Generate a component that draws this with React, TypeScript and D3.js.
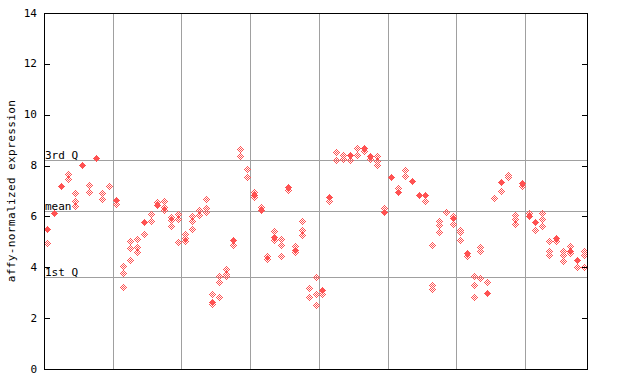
import React from "react";
import * as d3 from "d3";

// Per sample (x slot): replicate values (patterned diamonds)
const replicateValues: number[][] = [
  [4.95], [], [], [7.66, 7.47], [6.92, 6.61, 6.42], [], [7.25, 6.98], [], [6.93, 6.69], [7.18],
  [6.48], [4.07, 3.77, 3.22], [5.02, 4.76, 4.3], [5.11, 4.8, 4.61], [5.32], [6.09, 5.82], [6.55], [6.59, 6.37, 6.26], [5.98, 5.84, 5.63], [6.09, 5.9, 4.99],
  [5.32, 5.15, 5.04], [6.03, 5.81, 5.51], [6.24, 6.07], [6.69, 6.33, 6.17], [2.96, 2.55], [3.64, 3.42, 2.83], [3.93, 3.74, 3.64], [4.86], [8.66, 8.39], [7.86, 7.55],
  [6.95, 6.76], [6.37], [4.46, 4.33], [5.41, 5.08], [5.11, 4.89, 4.46], [7.04], [4.82, 4.59], [5.83, 5.48, 5.28], [3.18, 2.83], [3.62, 2.95, 2.52],
  [2.96], [6.6], [8.53, 8.22], [8.41, 8.26], [8.22], [8.69, 8.43], [8.56], [8.26], [8.39, 8.19, 8.03], [6.33],
  [], [7.12], [7.81, 7.6], [], [], [6.62], [4.89, 3.31, 3.16], [5.81, 5.68, 5.39], [6.17], [6.03, 5.71],
  [5.45, 5.37, 5.08], [4.43], [3.67, 3.3, 2.83], [4.81, 4.64, 3.59], [3.42], [6.72], [7.01], [7.64, 7.55], [6.07, 5.9, 5.71], [7.21],
  [6.13], [5.48], [6.13, 5.9, 5.63], [5.02, 4.65, 4.49], [5.02], [4.66, 4.49, 4.23], [4.85, 4.56], [4.01], [4.66, 4.49, 4.01],
];

// Per sample: highlighted value (solid diamond), null if none
const highlightValues: (number | null)[] = [
  5.52, 6.13, 7.21, null, null, 8.01, null, 8.29, null, null,
  6.64, null, null, null, 5.77, null, 6.44, null, null, null,
  null, null, null, null, 2.64, null, null, 5.06, null, null,
  6.86, 6.24, null, 5.19, null, 7.14, 4.68, null, null, null,
  3.09, 6.76, null, null, 8.4, null, 8.71, 8.36, null, 6.18,
  7.55, 6.98, null, 7.39, 6.85, 6.83, null, null, null, 5.94,
  null, 4.55, null, null, 2.97, null, 7.34, null, null, 7.31,
  6.03, 5.78, null, null, 5.15, null, 4.65, 4.27, null,
];

const groupBreaks = [10, 20, 30, 40, 50, 60, 70];
const yTicks = [0, 2, 4, 6, 8, 10, 12, 14];
const refLines = [
  { label: "3rd Q", value: 8.23 },
  { label: "mean", value: 6.21 },
  { label: "1st Q", value: 3.62 },
];
const yTitle = "affy-normalized expression";

const W = 640, H = 384;
const L = 44, R = 587, T = 13, B = 369;
const RED = "#ff5252";
const FONT = "'DejaVu Sans Mono', monospace";

function diamondPath(cx: number, cy: number, solid: boolean): string {
  let d = "";
  for (let dy = -3; dy <= 3; dy++) {
    for (let dx = -3; dx <= 3; dx++) {
      const m = Math.abs(dx) + Math.abs(dy);
      if (m > 3) continue;
      if (!solid && m % 2 === 0) continue;
      d += `M${cx + dx},${cy + dy}h1v1h-1z`;
    }
  }
  return d;
}

export default function App() {
  const n = replicateValues.length;
  const x = d3.scaleLinear().domain([0, n]).range([L, R]);
  const y = d3.scaleLinear().domain([0, 14]).range([B, T]);
  const px = (v: number) => Math.round(v) + 0.5;

  let repPath = "";
  let hiPath = "";
  replicateValues.forEach((vals, i) => {
    const cx = Math.round(x(i + 0.5));
    vals.forEach((v) => {
      repPath += diamondPath(cx, Math.round(y(v)), false);
    });
    const h = highlightValues[i];
    if (h != null) hiPath += diamondPath(cx, Math.round(y(h)), true);
  });

  return (
    <svg width={W} height={H} style={{ position: "absolute", left: 0, top: 0, background: "#fff" }}
      fontFamily={FONT}>
      <rect x={0} y={0} width={W} height={H} fill="#fff" />
      {groupBreaks.map((g) => (
        <line key={g} x1={px(x(g))} x2={px(x(g))} y1={T} y2={B} stroke="#a0a0a0" strokeWidth={1} />
      ))}
      {refLines.map((r) => (
        <g key={r.label}>
          <line x1={L} x2={R} y1={px(y(r.value))} y2={px(y(r.value))} stroke="#a0a0a0" strokeWidth={1} />
          <text x={L + 1} y={Math.round(y(r.value)) - 1} fontSize={11} fill="#000">{r.label}</text>
        </g>
      ))}
      <path d={repPath} fill={RED} shapeRendering="crispEdges" />
      <path d={hiPath} fill={RED} shapeRendering="crispEdges" />
      <rect x={L + 0.5} y={T + 0.5} width={R - L} height={B - T} fill="none" stroke="#000" strokeWidth={1} shapeRendering="crispEdges" />
      {yTicks.map((t) => (
        <g key={t}>
          <line x1={L} x2={L + 6} y1={px(y(t))} y2={px(y(t))} stroke="#000" />
          <line x1={R - 5} x2={R} y1={px(y(t))} y2={px(y(t))} stroke="#000" />
          <text x={37} y={y(t)} fontSize={11} textAnchor="end" dominantBaseline="central" fill="#000">{t}</text>
        </g>
      ))}
      <text transform={`translate(14.5,${(T + B) / 2}) rotate(-90)`} textAnchor="middle" fontSize={11}
        letterSpacing={0.4} fill="#000">{yTitle}</text>
    </svg>
  );
}
